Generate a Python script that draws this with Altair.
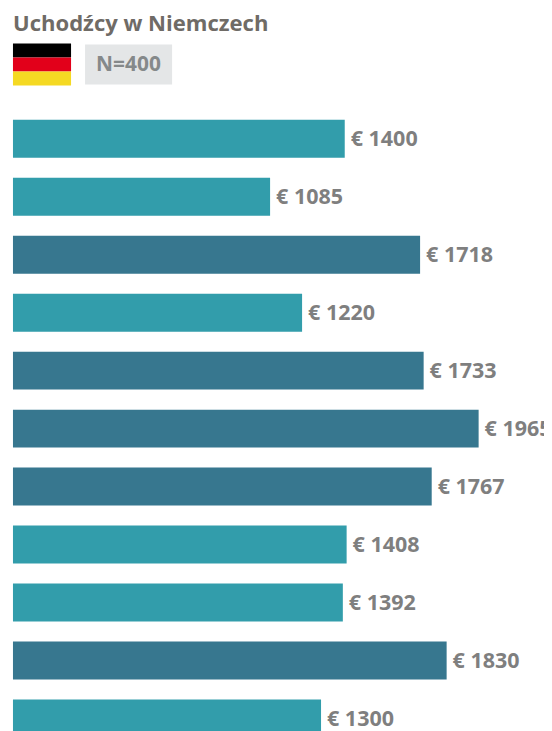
import altair as alt
import pandas as pd

values = [1400, 1085, 1718, 1220, 1733, 1965, 1767, 1408, 1392, 1830, 1300]
groups = ["a", "a", "b", "a", "b", "b", "b", "a", "a", "b", "a"]
order = list(range(len(values)))
title_text = "Uchodźcy w Niemczech"
badge_text = "N=400"
FONT = "Open Sans"

df = pd.DataFrame({"i": order, "v": values, "g": groups})
df["label"] = ["€ %d" % v for v in values]

W, H = 534, 718
x = alt.X("v:Q", axis=None, scale=alt.Scale(domain=[0, W / 0.2383], range=[0, W], nice=False))
y = alt.Y("i:O", axis=None, scale=alt.Scale(domain=order, range=[105.3, 726.6], paddingInner=0.345, paddingOuter=0))

bars = alt.Chart(df).mark_bar(cornerRadius=0).encode(
    x=x, y=y,
    color=alt.Color("g:N", legend=None, scale=alt.Scale(domain=["a", "b"], range=["#329DAB", "#37778F"])),
)
labels = alt.Chart(df).mark_text(align="left", baseline="middle", dx=6, dy=1, font=FONT, fontWeight="bold",
                                 fontSize=21.6, color="#7F7F7F").encode(x=x, y=y, text="label:N")

def rect(x0, x1, y0, y1, color, **kw):
    return alt.Chart(pd.DataFrame({"k": [0]})).mark_rect(color=color, **kw).encode(
        x=alt.value(x0), x2=alt.value(x1), y=alt.value(y0), y2=alt.value(y1))

def text(t, xp, yp, size, color):
    return alt.Chart(pd.DataFrame({"t": [t]})).mark_text(
        align="left", baseline="middle", font=FONT, fontWeight="bold", fontSize=size, color=color
    ).encode(x=alt.value(xp), y=alt.value(yp), text="t:N")

header = [
    text(title_text, 0, 9, 22.2, "#6F6B66"),
    rect(0, 58.4, 28.7, 42.8, "#000000"),
    rect(0, 58.4, 42.8, 56.9, "#E2001A"),
    rect(0, 58.4, 56.9, 71, "#F5D923"),
    rect(72.5, 160, 29.7, 70, "#E4E6E7"),
    text(badge_text, 83.6, 50, 21, "#85898A"),
]

chart = alt.layer(bars, labels, *header).properties(
    width=W, height=H,
    autosize=alt.AutoSizeParams(type="none"),
    padding={"left": 5, "top": 5, "right": 0, "bottom": 0},
).configure_view(stroke=None)
chart.save("out.html", embed_options={"renderer": "svg", "actions": False})
